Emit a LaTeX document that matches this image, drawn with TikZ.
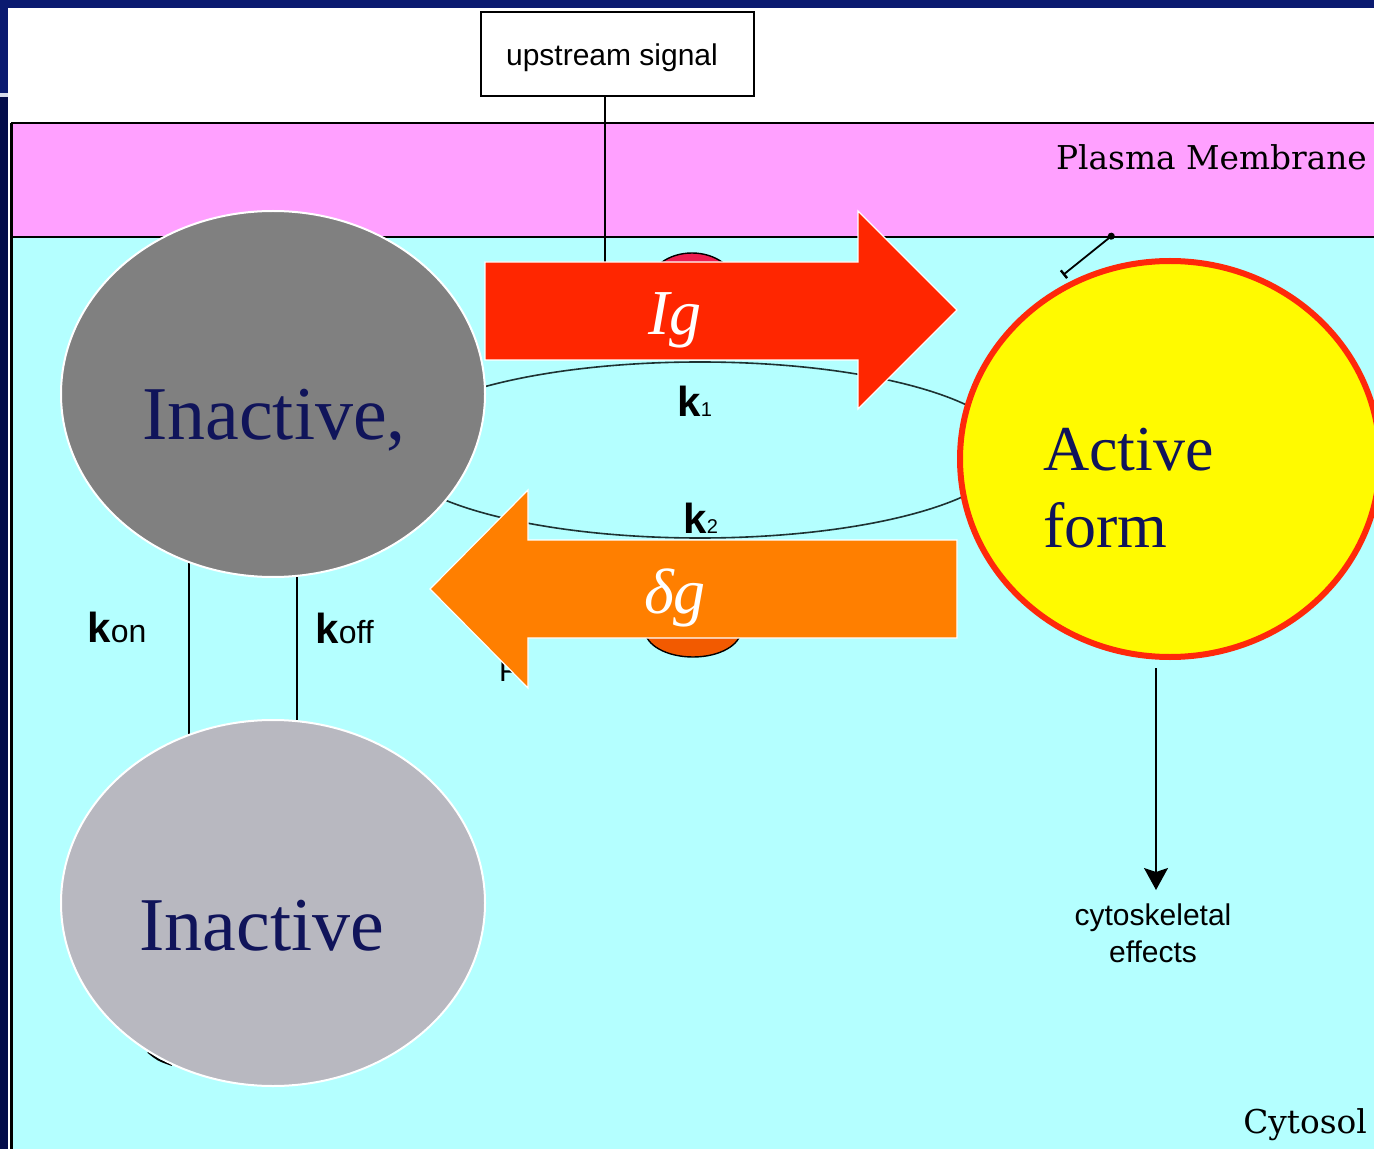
\documentclass[tikz,border=0pt]{standalone}
\usepackage{fontspec}
\setmainfont{Liberation Serif}
\newfontfamily\geneva{Liberation Sans}
\newfontfamily\slab{DejaVu Serif}
\usetikzlibrary{shapes.geometric,arrows.meta}

\definecolor{navyA}{RGB}{10,26,112}
\definecolor{navyB}{RGB}{3,12,74}
\definecolor{gapc}{RGB}{215,220,236}
\definecolor{membr}{RGB}{255,160,255}
\definecolor{cytc}{RGB}{180,255,255}
\definecolor{grayA}{RGB}{128,128,128}
\definecolor{grayB}{RGB}{184,184,192}
\definecolor{actfill}{RGB}{255,250,0}
\definecolor{actline}{RGB}{255,40,10}
\definecolor{arrred}{RGB}{255,38,0}
\definecolor{arrorg}{RGB}{255,127,0}
\definecolor{txtnavy}{RGB}{16,20,90}
\definecolor{loopc}{RGB}{30,50,50}
\definecolor{blobred}{RGB}{235,30,80}
\definecolor{bloborg}{RGB}{242,90,0}

\newcommand\klab[2]{{\geneva\fontsize{21}{21}\selectfont\bfseries k}{\geneva\fontsize{#1}{#1}\selectfont #2}}

\tikzset{
  blob/.style={ellipse, inner sep=0pt, draw=white, line width=1pt},
  bigword/.style={font=\fontsize{38}{38}\selectfont, text=txtnavy, anchor=base},
  actword/.style={font=\fontsize{32}{32}\selectfont, text=txtnavy, anchor=base west},
  arrword/.style={font=\fontsize{32}{32}\selectfont\itshape, text=white, anchor=base},
  smallsans/.style={font=\geneva\fontsize{15}{18.5}\selectfont},
  slabtext/.style={font=\slab\fontsize{16.4}{16.4}\selectfont, anchor=base east},
  fatarrow/.style={draw=white, line width=0.6pt},
  thinline/.style={line width=0.7pt, draw=black}
}

\begin{document}
\begin{tikzpicture}[x=0.5pt,y=-0.5pt]
\useasboundingbox (0,0) rectangle (1374,1149);
\clip (0,0) rectangle (1374,1149);

% slide frame
\fill[white] (0,0) rectangle (1374,1149);
\fill[navyA] (0,0) rectangle (1374,8);
\fill[navyA] (0,0) rectangle (8,93);
\fill[gapc] (0,93) rectangle (8,97);
\fill[navyB] (0,97) rectangle (8,1149);

% membrane and cytosol compartments
\draw[fill=membr, line width=0.6pt] (12,123) rectangle (1400,237);
\draw[fill=cytc, line width=0.6pt] (12,237) rectangle (1400,1170);
\draw[line width=1.2pt] (11.5,123) -- (11.5,1149);

\node[slabtext] (pm) at (1374,170) {Plasma Membrane};
\node[slabtext] (cyto) at (1374,1133) {Cytosol};

% upstream signal box
\node[draw, line width=0.7pt, fill=white, minimum width=136.5pt, minimum height=42pt,
      inner sep=0pt] (sig) at (617.5,54) {};
\node[smallsans, anchor=base] (sigtxt) at (612,66) {upstream signal};

% k1/k2 cycle loop
\node[ellipse, draw=loopc, line width=0.8pt, minimum width=310pt, minimum height=88pt,
      inner sep=0pt] (loop) at (700,450) {};

% proteins partly hidden behind the arrows
\node[ellipse, draw=black, line width=0.7pt, fill=blobred, minimum width=43pt,
      minimum height=32pt, inner sep=0pt] (blobA) at (692,285) {};
\node[ellipse, draw=black, line width=0.7pt, fill=bloborg, minimum width=48pt,
      minimum height=27pt, inner sep=0pt] (blobB) at (693,630) {};

\node[smallsans, anchor=base west] (flab) at (492,681) {F};

% signal line into the membrane
\coordinate (sigEnd) at (605,280);
\draw[thinline] (sig.south -| sigEnd) -- (sigEnd);

% kon / koff links
\coordinate (konTop) at (189,560);
\coordinate (konBot) at (189,745);
\coordinate (koffTop) at (297,570);
\coordinate (koffBot) at (297,730);
\draw[thinline] (konTop) -- (konBot);
\draw[thinline] (koffTop) -- (koffBot);

% small mark behind the lower ellipse
\draw[line width=1pt] (148,1052) .. controls (158,1060) .. (172,1065);

% membrane anchor arrow
\coordinate (mA) at (1114,234);
\coordinate (mB) at (1063,275);
\draw[line width=0.9pt, {Circle[length=3.5pt]}-{Bar[width=5pt,line width=1.2pt]}] (mA) -- (mB);

% fat arrows
\draw[fatarrow, fill=arrred] (485,262) -- (858,262) -- (858,211) -- (957,310)
      -- (858,409) -- (858,360) -- (485,360) -- cycle;
\draw[fatarrow, fill=arrorg] (957,540) -- (528,540) -- (528,490) -- (430,589)
      -- (528,688) -- (528,638) -- (957,638) -- cycle;
\node[arrword] (ig) at (675,335) {Ig};
\node[arrword] (dg) at (675,613) {δg};

% rate labels
\node[anchor=base west, inner sep=0pt] (k1) at (677,417) {\klab{10}{1}};
\node[anchor=base west, inner sep=0pt] (k2) at (683,533) {\klab{10}{2}};
\node[anchor=base west, inner sep=0pt] (kon) at (87,642) {\klab{16}{on}};
\node[anchor=base west, inner sep=0pt] (koff) at (315,643) {\klab{16}{off}};

% states
\node[blob, fill=grayA, minimum width=212pt, minimum height=183pt] (inact1) at (273,394) {};
\node[blob, fill=grayB, minimum width=212pt, minimum height=183pt] (inact2) at (273,903) {};
\node[ellipse, inner sep=0pt, draw=actline, line width=3pt, fill=actfill,
      minimum width=210pt, minimum height=198pt] (active) at (1170,459) {};

\node[bigword] (t1) at (274,440) {Inactive,};
\node[bigword] (t2) at (262,950) {Inactive};
\node[actword] (t3) at (1036,470) {Active};
\node[actword] (t4) at (1036,547) {form};

% downstream effect
\coordinate (effTip) at (1156,890);
\draw[line width=0.8pt, -{Stealth[width=12pt,length=11pt,inset=2pt]}]
      ([xshift=-7pt,yshift=-4pt]active.south) -- (effTip);
\node[smallsans, align=center, anchor=north] (eff) at (1153,897) {cytoskeletal\\effects};
\end{tikzpicture}
\end{document}
